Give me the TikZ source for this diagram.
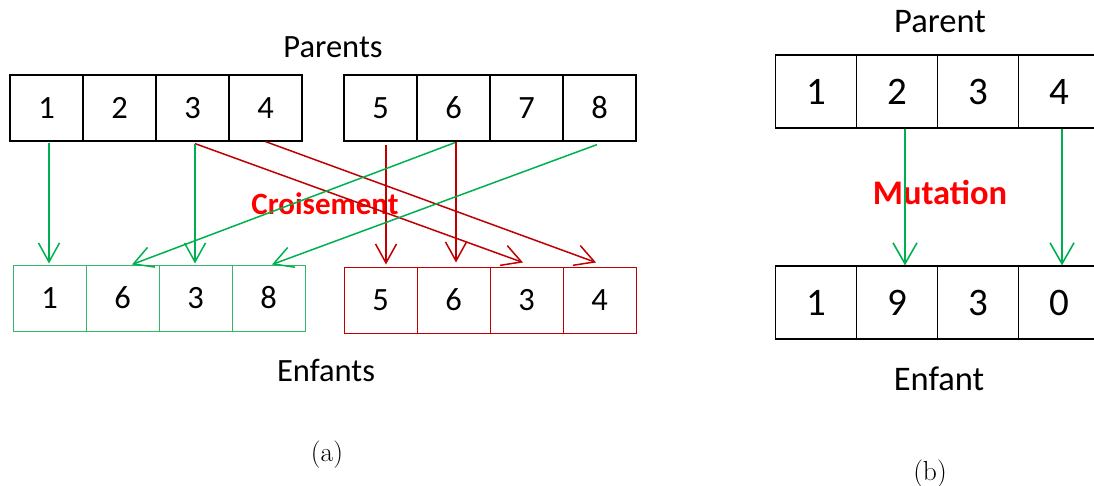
\documentclass[tikz,border=0pt]{standalone}
\usepackage{fontspec}
\newfontfamily\carl{Carlito}
\usetikzlibrary{arrows.meta,calc}
\definecolor{agreen}{RGB}{0,176,80}
\definecolor{bgreen}{RGB}{50,182,105}
\definecolor{dred}{RGB}{192,0,0}
\definecolor{bred}{RGB}{255,0,0}
\begin{document}
\begin{tikzpicture}[x=1pt,y=-1pt,
  cell/.style={draw=black,line width=1.2pt,minimum width=73pt,minimum height=66pt,inner sep=0pt,font=\carl\fontsize{32.5}{33}\selectfont},
  gcell/.style={cell,draw=bgreen,line width=1pt},
  rcell/.style={cell,draw=dred,line width=1pt},
  bcell/.style={cell,minimum width=81pt,minimum height=73pt,font=\carl\fontsize{39}{40}\selectfont},
  lbl/.style={font=\carl\fontsize{32.5}{33}\selectfont,inner sep=0pt},
  blbl/.style={font=\carl\fontsize{34.5}{36}\selectfont,inner sep=0pt},
  garr/.style={draw=agreen,line width=1.5pt,-{Straight Barb[length=19pt,width=21pt]}},
  rarr/.style={draw=dred,line width=1.5pt,-{Straight Barb[length=19pt,width=21pt]}},
  marr/.style={draw=agreen,line width=1.6pt,-{Straight Barb[length=21pt,width=24pt]}},
  subcap/.style={font=\fontsize{27.5}{28}\selectfont,inner sep=0pt}]
\useasboundingbox (0,0) rectangle (1094,486);
\clip (0,0) rectangle (1094,486);
% ---- (a) ----
\node[lbl] (parents) at (333,47) {Parents};
\node[lbl,text=bred,font=\carl\bfseries\fontsize{31}{32}\selectfont] (crois) at (325,204) {Croisement};
\node[cell] (p1) at (46.5,108) {1};
\node[cell] (p2) at (119.5,108) {2};
\node[cell] (p3) at (192.5,108) {3};
\node[cell] (p4) at (265.5,108) {4};
\node[cell] (q1) at (380.5,108) {5};
\node[cell] (q2) at (453.5,108) {6};
\node[cell] (q3) at (526.5,108) {7};
\node[cell] (q4) at (599.5,108) {8};
\node[gcell] (g1) at (49.5,298) {1};
\node[gcell] (g2) at (122.5,298) {6};
\node[gcell] (g3) at (195.5,298) {3};
\node[gcell] (g4) at (268.5,298) {8};
\node[rcell] (r1) at (380.5,300) {5};
\node[rcell] (r2) at (453.5,300) {6};
\node[rcell] (r3) at (526.5,300) {3};
\node[rcell] (r4) at (599.5,300) {4};
% red arrows
\draw[rarr] ($(p3.south)+(2.5,2)$) -- ($(r3.north)+(-3.5,-4)$);
\draw[rarr] (p4.south) -- ($(r4.north)+(-3.5,-4)$);
\draw[rarr] ($(r1.north |- q1.south)+(5.5,3)$) -- ($(r1.north)+(5.5,-2)$);
\draw[rarr] ($(q2.south)+(2.5,0)$) -- ($(r2.north)+(2.5,-4)$);
% green arrows
\draw[garr] ($(g1.north |- p1.south)+(-0.5,1)$) -- ($(g1.north)+(-0.5,-1)$);
\draw[garr] ($(g3.north |- p3.south)+(-0.5,2)$) -- ($(g3.north)+(-0.5,-1)$);
\draw[garr] ($(q2.south)+(1.5,1)$) -- ($(g2.north)+(9.5,0)$);
\draw[garr] ($(q4.south)+(-2.5,3)$) -- ($(g4.north)+(3.5,0)$);
\node[lbl] (enfants) at (326,370.5) {Enfants};
\node[subcap] (capa) at (327,454.5) {(a)};
% ---- (b) ----
\node[blbl] (parent) at (940,22) {Parent};
\node[blbl,text=bred,font=\carl\bfseries\fontsize{34.5}{36}\selectfont] (mut) at (940,192.5) {Mutation};
\node[bcell] (m1) at (816,91.5) {1};
\node[bcell] (m2) at (897,91.5) {2};
\node[bcell] (m3) at (978,91.5) {3};
\node[bcell] (m4) at (1059,91.5) {4};
\node[bcell] (n1) at (816,302.5) {1};
\node[bcell] (n2) at (897,302.5) {9};
\node[bcell] (n3) at (978,302.5) {3};
\node[bcell] (n4) at (1059,302.5) {0};
\draw[marr] ($(m2.south)+(8,0)$) -- ($(n2.north)+(8,0)$);
\draw[marr] ($(m4.south)+(3,0)$) -- ($(n4.north)+(3,0)$);
\node[blbl] (enfant) at (939,379) {Enfant};
\node[subcap] (capb) at (930,473.5) {(b)};
\end{tikzpicture}
\end{document}
